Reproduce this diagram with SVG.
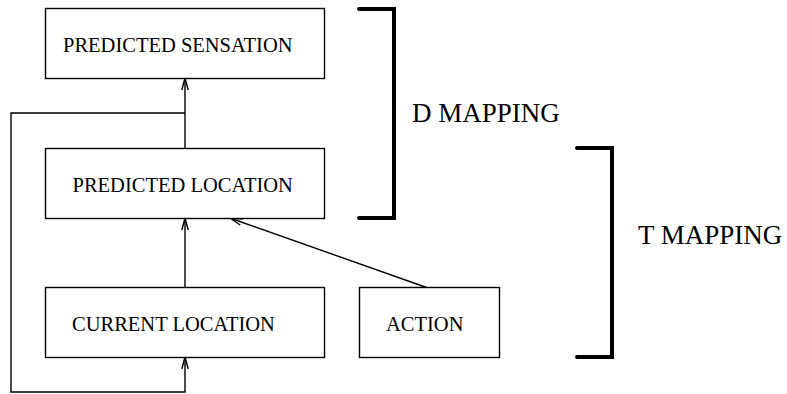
<svg xmlns="http://www.w3.org/2000/svg" width="787" height="394" viewBox="0 0 787 394">
<style>
.box{fill:#fff;stroke:#000;stroke-width:1.4}
.lbl{font-family:"Liberation Serif",serif;font-size:20.5px;fill:#000}
.big{font-family:"Liberation Serif",serif;font-size:27px;fill:#000}
.conn{fill:none;stroke:#000;stroke-width:1.4}
.brk{fill:none;stroke:#000;stroke-width:4;stroke-linecap:round;stroke-linejoin:miter}
</style>
<defs>
<marker id="arr" markerUnits="userSpaceOnUse" markerWidth="14" markerHeight="10" refX="0" refY="0" viewBox="-13 -5 14 10" orient="auto" overflow="visible">
<path d="M-12,-3.2 L0,0 L-12,3.2" fill="none" stroke="#000" stroke-width="1.4"/>
</marker>
</defs>
<rect width="787" height="394" fill="#fff"/>
<g id="connectors">
<path class="conn" d="M185,148 L185,78" marker-end="url(#arr)"/>
<path class="conn" d="M185,288 L185,218" marker-end="url(#arr)"/>
<path class="conn" d="M428,288 L230,218" marker-end="url(#arr)"/>
<path class="conn" d="M185,113 L11,113 L11,392 L185,392 L185,357" marker-end="url(#arr)"/>
</g>
<g id="predicted-sensation">
<rect class="box" x="45.5" y="8.5" width="279" height="70"/>
<text class="lbl" x="63" y="52">PREDICTED SENSATION</text>
</g>
<g id="predicted-location">
<rect class="box" x="45.5" y="148.5" width="279" height="70"/>
<text class="lbl" x="72.5" y="191.5">PREDICTED LOCATION</text>
</g>
<g id="current-location">
<rect class="box" x="45.5" y="287.5" width="279" height="70"/>
<text class="lbl" x="72" y="330.5">CURRENT LOCATION</text>
</g>
<g id="action">
<rect class="box" x="359.5" y="287.5" width="140" height="70"/>
<text class="lbl" x="386" y="330.5">ACTION</text>
</g>
<g id="d-mapping">
<path class="brk" d="M359,9 L394,9 L394,218 L359,218"/>
<text class="big" x="412" y="122">D MAPPING</text>
</g>
<g id="t-mapping">
<path class="brk" d="M577,148 L612,148 L612,357 L577,357"/>
<text class="big" x="638" y="244">T MAPPING</text>
</g>
</svg>
